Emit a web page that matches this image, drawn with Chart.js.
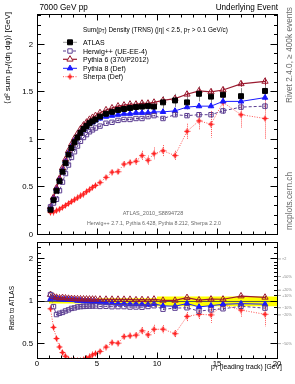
<!DOCTYPE html>
<html><head><meta charset="utf-8">
<script src="https://cdn.jsdelivr.net/npm/chart.js@4.4.1/dist/chart.umd.min.js"></script>
<style>
html,body{margin:0;padding:0;background:#fff;}
body{width:295px;height:384px;position:relative;overflow:hidden;font-family:"Liberation Sans",Arial,Helvetica,sans-serif;}
canvas{position:absolute;left:0;}
#up{top:0}
#lo{top:238px}
.t{position:absolute;white-space:nowrap;line-height:1;color:#000;}
.t sub{font-size:70%;vertical-align:-0.3em;line-height:0;}
.rot{transform-origin:0 0;transform:rotate(-90deg);}
.g{color:#6a6a6a;}
</style></head><body>
<canvas id="up" width="295" height="239"></canvas>
<canvas id="lo" width="295" height="146"></canvas>

<div class="t" style="left:39.5px;top:3.5px;font-size:8.2px">7000 GeV pp</div>
<div class="t" style="right:17px;top:3.5px;font-size:8.2px">Underlying Event</div>
<div class="t" style="left:83px;top:27px;font-size:6.4px">Sum(p<sub>T</sub>) Density (TRNS) (|η| &lt; 2.5, p<sub>T</sub> &gt; 0.1 GeV/c)</div>
<div id="legend"></div>
<div class="t g" style="left:153px;top:211.3px;font-size:5.5px;transform:translateX(-50%)">ATLAS_2010_S8894728</div>
<div class="t g" style="left:154px;top:221.4px;font-size:5.3px;transform:translateX(-50%)">Herwig++ 2.7.1, Pythia 6.428, Pythia 8.212, Sherpa 2.2.0</div>
<div class="t rot" style="left:4px;top:212px;width:200px;text-align:right;font-size:8px">⟨d² sum p<sub>T</sub>/(dη dφ)⟩ [GeV]</div>
<div class="t rot" style="left:9px;top:486px;width:200px;text-align:right;font-size:6.5px">Ratio to ATLAS</div>
<div class="t" style="right:13px;top:363.5px;font-size:6.8px;text-align:right">p<sub>T</sub> (leading track) [GeV]</div>
<div class="t rot g" style="left:285px;top:103px;font-size:8.3px">Rivet 2.4.0, ≥ 400k events</div>
<div class="t rot g" style="left:285px;top:230px;font-size:8.3px">mcplots.cern.ch</div>

<script>
// ---------------- data ----------------
const pT = [1.125,1.375,1.625,1.875,2.125,2.375,2.625,2.875,3.125,3.375,3.625,3.875,4.125,4.375,4.625,4.875,
            5.25,5.75,6.25,6.75,7.25,7.75,8.25,8.75,9.25,9.75,
            10.5,11.5,12.5,13.5,14.5,15.5,17,19];
const binEdges = [1,1.25,1.5,1.75,2,2.25,2.5,2.75,3,3.25,3.5,3.75,4,4.25,4.5,4.75,5,
                  5.5,6,6.5,7,7.5,8,8.5,9,9.5,10,11,12,13,14,15,16,18,20];

const atlas = [0.26,0.36,0.46,0.56,0.66,0.75,0.84,0.91,0.97,1.02,1.07,1.11,1.14,1.17,1.19,1.21,
               1.24,1.27,1.29,1.31,1.32,1.33,1.34,1.345,1.35,1.345,
               1.39,1.41,1.39,1.48,1.45,1.47,1.455,1.51];
const atlasErr = [0.01,0.012,0.015,0.018,0.02,0.022,0.025,0.027,0.03,0.032,0.034,0.036,0.038,0.04,0.04,0.042,
                  0.045,0.047,0.05,0.05,0.052,0.054,0.055,0.057,0.058,0.06,
                  0.065,0.07,0.075,0.08,0.085,0.085,0.085,0.09];
const atlasBand = [0.035,0.035,0.035,0.035,0.035,0.035,0.035,0.035,0.035,0.035,0.035,0.035,0.035,0.035,0.035,0.035,
                   0.05,0.05,0.05,0.05,0.05,0.05,0.05,0.05,0.05,0.05,
                   0.08,0.08,0.08,0.08,0.08,0.08,0.08,0.08];

const herwig = [0.29,0.33,0.37,0.46,0.55,0.64,0.73,0.81,0.87,0.93,0.98,1.02,1.05,1.08,1.10,1.12,
                1.14,1.17,1.18,1.20,1.21,1.21,1.22,1.22,1.24,1.25,
                1.22,1.26,1.25,1.26,1.26,1.30,1.34,1.35];
const herwigErr = [0.004,0.004,0.004,0.004,0.004,0.004,0.004,0.004,0.004,0.004,0.004,0.004,0.004,0.004,0.004,0.004,
                   0.008,0.008,0.008,0.008,0.008,0.008,0.008,0.008,0.008,0.008,
                   0.015,0.02,0.02,0.025,0.025,0.03,0.03,0.035];

const pythia6 = [0.29,0.39,0.49,0.59,0.70,0.79,0.88,0.95,1.01,1.06,1.11,1.15,1.18,1.21,1.23,1.25,
                 1.28,1.31,1.33,1.35,1.36,1.37,1.37,1.38,1.38,1.39,
                 1.41,1.43,1.475,1.51,1.50,1.52,1.585,1.61];
const pythia6Err = [0.004,0.004,0.004,0.004,0.004,0.004,0.004,0.004,0.004,0.004,0.004,0.004,0.004,0.004,0.004,0.004,
                    0.008,0.008,0.008,0.008,0.008,0.008,0.008,0.008,0.008,0.008,
                    0.015,0.02,0.02,0.025,0.03,0.03,0.03,0.04];

const pythia8 = [0.27,0.38,0.48,0.58,0.68,0.77,0.86,0.93,0.99,1.03,1.08,1.11,1.14,1.17,1.18,1.20,
                 1.22,1.24,1.25,1.26,1.27,1.27,1.28,1.28,1.28,1.29,
                 1.29,1.30,1.34,1.35,1.35,1.40,1.40,1.44];
const pythia8Err = [0.003,0.003,0.003,0.003,0.003,0.003,0.003,0.003,0.003,0.003,0.003,0.003,0.003,0.003,0.003,0.003,
                    0.006,0.006,0.006,0.006,0.006,0.006,0.006,0.006,0.006,0.006,
                    0.012,0.015,0.015,0.02,0.02,0.025,0.025,0.03];

const sherpa = [0.23,0.235,0.25,0.265,0.285,0.305,0.325,0.345,0.365,0.385,0.405,0.425,0.45,0.47,0.495,0.515,
                0.545,0.60,0.655,0.66,0.74,0.755,0.77,0.83,0.78,0.85,
                0.88,0.83,1.085,1.195,1.16,1.39,1.26,1.22];
const sherpaErr = [0.005,0.005,0.005,0.006,0.006,0.007,0.007,0.008,0.008,0.009,0.01,0.01,0.012,0.012,0.013,0.014,
                   0.02,0.02,0.025,0.025,0.03,0.03,0.035,0.05,0.05,0.065,
                   0.06,0.05,0.08,0.09,0.14,0.06,0.14,0.22];

const legendLabels = ['ATLAS','Herwig++ (UE-EE-4)','Pythia 6 (370/P2012)','Pythia 8 (Def)','Sherpa (Def)'];

const xTicks = [0,5,10,15,20];
const xMinorTicks = [1,2,3,4,6,7,8,9,11,12,13,14,16,17,18,19];
const yTicksMain = [0,0.5,1,1.5,2];
const yMinorMain = [0.1,0.2,0.3,0.4,0.6,0.7,0.8,0.9,1.1,1.2,1.3,1.4,1.6,1.7,1.8,1.9,2.1,2.2,2.3];
const yTicksRatio = [0.5,1,2];
const yMinorRatio = [0.6,0.7,0.8,0.9,1.1,1.2,1.3,1.4,1.5,1.6,1.7,1.8,1.9,2.2,2.4];
const pctLabels = [[2,'×2'],[1.5,'+50%'],[1.2,'+20%'],[1.1,'+10%'],[0.9,'−10%'],[0.8,'−20%'],[0.5,'−50%']];

// ---------------- styling ----------------
const FONT = '"Liberation Sans", Arial, Helvetica, sans-serif';
function starMarker(color, size){
  const c = document.createElement('canvas'); c.width = c.height = size;
  const g = c.getContext('2d'); const r = size/2, ri = size*0.22;
  g.fillStyle = color; g.beginPath();
  for (let k=0;k<8;k++){ const a = k*Math.PI/4 - Math.PI/2; const rr = (k%2)? ri : r;
    g.lineTo(r + rr*Math.cos(a), r + rr*Math.sin(a)); }
  g.closePath(); g.fill(); return c;
}
const sherpaStar = starMarker('#ff2020', 7);
const ST = {
  atlas:  {color:'#000000', pointStyle:'rect', r:3.5, fill:true, line:false, errColor:'#8a8a8a', legLine:'#9a9a9a'},
  herwig: {color:'#5b3d91', pointStyle:'rect', r:3.1, fill:false, line:true, dash:[3,2], errColor:'#5b3d91'},
  pythia6:{color:'#9b1b30', pointStyle:'triangle', r:3.6, fill:false, line:true, lw:1.2, errColor:'#9b1b30'},
  pythia8:{color:'#1a1aff', pointStyle:'triangle', r:3.2, fill:true, line:true, errColor:'#1a1aff'},
  sherpa: {color:'#ff2020', lineColor:'rgba(255,50,50,0.85)', pointStyle:sherpaStar, r:3.5, fill:true, line:true, dash:[1,1.5], errColor:'rgba(255,50,50,0.85)', errDash:[1,1]}
};
function mkds(st, vals, errs){
  return { data: pT.map((x,i)=>({x:x, y:vals[i]})), errs: errs, showLine: st.line,
    borderColor: st.lineColor || st.color, borderWidth: st.lw || 1, borderDash: st.dash || [],
    pointStyle: st.pointStyle, pointRadius: st.r, pointHoverRadius: st.r,
    pointBorderColor: st.color, pointBackgroundColor: st.fill ? st.color : 'rgba(0,0,0,0)',
    pointBorderWidth: 1, errColor: st.errColor, errDash: st.errDash || [], tension: 0, fill: false };
}
const ratio = (v, i) => v / atlas[i];

// ---------------- drawing helpers ----------------
function clipArea(ctx, a){ ctx.beginPath(); ctx.rect(a.left, a.top, a.right-a.left, a.bottom-a.top); ctx.clip(); }
function drawErrors(chart){
  const ctx = chart.ctx, ys = chart.scales.y;
  ctx.save(); clipArea(ctx, chart.chartArea);
  chart.data.datasets.forEach((ds, i) => {
    if (!ds.errs) return;
    const meta = chart.getDatasetMeta(i);
    ctx.strokeStyle = ds.errColor; ctx.lineWidth = 1; ctx.setLineDash(ds.errDash);
    meta.data.forEach((pt, j) => {
      const v = ds.data[j].y, e = ds.errs[j];
      const y0 = ys.getPixelForValue(v + e), y1 = ys.getPixelForValue(Math.max(v - e, 1e-4));
      const x = Math.floor(pt.x) + 0.5;
      ctx.beginPath(); ctx.moveTo(x, y0); ctx.lineTo(x, y1); ctx.stroke();
    });
  });
  ctx.restore();
}
function drawFrame(chart, yMajor, yMinor){
  const ctx = chart.ctx, a = chart.chartArea, xs = chart.scales.x, ys = chart.scales.y;
  const L = Math.floor(a.left)+0.5, R = Math.floor(a.right)+0.5, T = Math.floor(a.top)+0.5, B = Math.floor(a.bottom)+0.5;
  ctx.save(); ctx.strokeStyle = '#000'; ctx.lineWidth = 1; ctx.setLineDash([]);
  ctx.strokeRect(L, T, R-L, B-T);
  ctx.beginPath();
  const xt = (v, len) => { const x = Math.floor(xs.getPixelForValue(v))+0.5;
    ctx.moveTo(x, B); ctx.lineTo(x, B-len); ctx.moveTo(x, T); ctx.lineTo(x, T+len); };
  const yt = (v, len) => { const y = Math.floor(ys.getPixelForValue(v))+0.5;
    if (y < T || y > B) return;
    ctx.moveTo(L, y); ctx.lineTo(L+len, y); ctx.moveTo(R, y); ctx.lineTo(R-len, y); };
  xTicks.forEach(v => xt(v, 6)); xMinorTicks.forEach(v => xt(v, 3));
  yMajor.forEach(v => yt(v, 7)); yMinor.forEach(v => yt(v, 3.5));
  ctx.stroke(); ctx.restore();
}
function drawLegendMarkers(chart){
  const ctx = chart.ctx; const rows = [42.3, 51, 59.3, 68.3, 76.7];
  const keys = ['atlas','herwig','pythia6','pythia8','sherpa'];
  keys.forEach((k, i) => {
    const st = ST[k], y = rows[i];
    ctx.save();
    ctx.strokeStyle = st.legLine || st.lineColor || st.color; ctx.lineWidth = st.lw || 1; ctx.setLineDash(st.dash || []);
    ctx.beginPath(); ctx.moveTo(63, y); ctx.lineTo(77, y); ctx.stroke();
    ctx.setLineDash([]); ctx.lineWidth = 1;
    ctx.strokeStyle = st.color; ctx.fillStyle = st.fill ? st.color : '#fff';
    Chart.helpers.drawPoint(ctx, {pointStyle: st.pointStyle, radius: st.r, rotation: 0, borderWidth: 1}, 70, y);
    ctx.restore();
  });
}
function zeroPad(s){ s.paddingLeft = 0; s.paddingRight = 0; s.paddingTop = 0; s.paddingBottom = 0; }
const tickFont = {family: FONT, size: 7.8};

// ---------------- legend text ----------------
(function(){
  const rows = [42.3, 51, 59.3, 68.3, 76.7];
  const box = document.getElementById('legend');
  legendLabels.forEach((t, i) => {
    const d = document.createElement('div'); d.className = 't';
    d.style.left = '83px'; d.style.top = (rows[i] - 3.4) + 'px'; d.style.fontSize = '7px';
    d.textContent = t; box.appendChild(d);
  });
})();

// ---------------- upper panel ----------------
new Chart(document.getElementById('up'), {
  type: 'scatter',
  data: { datasets: [
    mkds(ST.atlas, atlas, atlasErr),
    mkds(ST.herwig, herwig, herwigErr),
    mkds(ST.pythia6, pythia6, pythia6Err),
    mkds(ST.pythia8, pythia8, pythia8Err),
    mkds(ST.sherpa, sherpa, sherpaErr)
  ]},
  options: {
    responsive: false, animation: false, devicePixelRatio: 1, events: [],
    layout: {padding: {left: 0, right: 18, top: 14, bottom: 1}},
    plugins: {legend: {display: false}, tooltip: {enabled: false}},
    scales: {
      x: {type: 'linear', min: 0, max: 20,
          afterBuildTicks: s => { s.ticks = xTicks.map(v => ({value: v})); },
          ticks: {display: false}, grid: {display: false, drawTicks: false}, border: {display: false},
          afterFit: s => { s.height = 0; zeroPad(s); }},
      y: {type: 'linear', min: 0, max: 2.32,
          afterBuildTicks: s => { s.ticks = yTicksMain.map(v => ({value: v})); },
          ticks: {padding: 4, color: '#000', font: tickFont, callback: v => String(v)},
          grid: {display: false, drawTicks: false}, border: {display: false},
          afterFit: s => { s.width = 37; zeroPad(s); }}
    }
  },
  plugins: [{
    id: 'upperDeco',
    beforeDatasetsDraw(chart){ drawErrors(chart); },
    afterDraw(chart){ drawFrame(chart, yTicksMain, yMinorMain); drawLegendMarkers(chart); }
  }]
});

// ---------------- ratio panel ----------------
new Chart(document.getElementById('lo'), {
  type: 'scatter',
  data: { datasets: [
    mkds(ST.herwig, herwig.map(ratio), herwigErr.map(ratio)),
    mkds(ST.pythia6, pythia6.map(ratio), pythia6Err.map(ratio)),
    mkds(ST.pythia8, pythia8.map(ratio), pythia8Err.map(ratio)),
    mkds(ST.sherpa, sherpa.map(ratio), sherpaErr.map(ratio))
  ]},
  options: {
    responsive: false, animation: false, devicePixelRatio: 1, events: [],
    layout: {padding: {left: 0, right: 18, top: 0, bottom: 0}},
    plugins: {legend: {display: false}, tooltip: {enabled: false}},
    scales: {
      x: {type: 'linear', min: 0, max: 20,
          afterBuildTicks: s => { s.ticks = xTicks.map(v => ({value: v})); },
          ticks: {padding: 1, color: '#000', font: tickFont, maxRotation: 0, autoSkip: false, callback: v => String(v)},
          grid: {display: false, drawTicks: false}, border: {display: false},
          afterFit: s => { s.height = 26; zeroPad(s); }},
      y: {type: 'logarithmic', min: 0.395, max: 2.614,
          afterBuildTicks: s => { s.ticks = yTicksRatio.map(v => ({value: v})); },
          ticks: {padding: 4, color: '#000', font: tickFont, callback: v => String(v)},
          grid: {display: false, drawTicks: false}, border: {display: false},
          afterFit: s => { s.width = 37; zeroPad(s); }}
    }
  },
  plugins: [{
    id: 'ratioDeco',
    beforeDatasetsDraw(chart){
      const ctx = chart.ctx, xs = chart.scales.x, ys = chart.scales.y, a = chart.chartArea;
      ctx.save(); clipArea(ctx, a);
      ctx.fillStyle = '#ffff00'; ctx.beginPath();
      for (let i = 0; i < atlasBand.length; i++){
        const x0 = xs.getPixelForValue(binEdges[i]), x1 = xs.getPixelForValue(binEdges[i+1]);
        const y = ys.getPixelForValue(1 + atlasBand[i]);
        if (i === 0) ctx.moveTo(x0, y); else ctx.lineTo(x0, y);
        ctx.lineTo(x1, y);
      }
      for (let i = atlasBand.length - 1; i >= 0; i--){
        const x0 = xs.getPixelForValue(binEdges[i]), x1 = xs.getPixelForValue(binEdges[i+1]);
        const y = ys.getPixelForValue(1 - atlasBand[i]);
        ctx.lineTo(x1, y); ctx.lineTo(x0, y);
      }
      ctx.closePath(); ctx.fill();
      const y1 = Math.floor(ys.getPixelForValue(1)) + 0.5;
      ctx.strokeStyle = '#555'; ctx.lineWidth = 1;
      ctx.beginPath(); ctx.moveTo(a.left, y1); ctx.lineTo(a.right, y1); ctx.stroke();
      ctx.restore();
      drawErrors(chart);
    },
    afterDraw(chart){
      drawFrame(chart, yTicksRatio, yMinorRatio);
      const ctx = chart.ctx, ys = chart.scales.y, a = chart.chartArea;
      ctx.save(); ctx.font = '3.8px ' + FONT; ctx.fillStyle = '#888'; ctx.strokeStyle = '#999'; ctx.lineWidth = 0.8;
      ctx.textBaseline = 'middle'; ctx.textAlign = 'left';
      pctLabels.forEach(([v, t]) => {
        const y = ys.getPixelForValue(v);
        ctx.beginPath(); ctx.moveTo(a.right + 1, y); ctx.lineTo(a.right + 4, y); ctx.stroke();
        ctx.fillText(t, a.right + 5, y);
      });
      ctx.restore();
    }
  }]
});
</script>
</body></html>
